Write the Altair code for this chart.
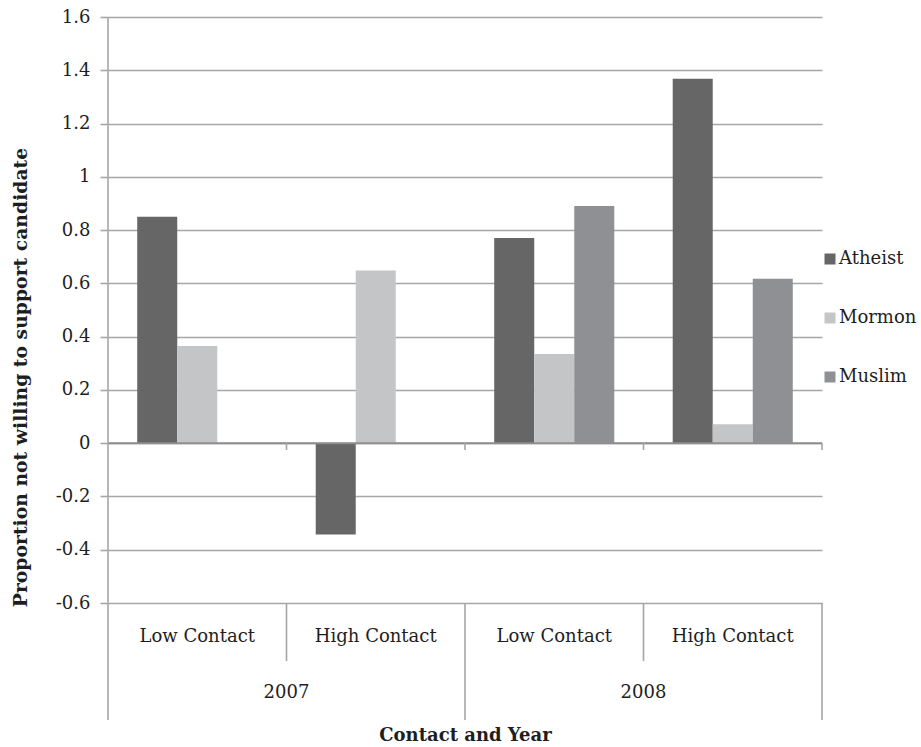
import altair as alt
import pandas as pd

# Category groups (year / contact level) and the three candidate religions
years = ["2007", "2007", "2008", "2008"]
contacts = ["Low Contact", "High Contact", "Low Contact", "High Contact"]
series = ["Atheist", "Mormon", "Muslim"]
colors = ["#666667", "#c4c5c7", "#8f9094"]

atheist = [0.85, -0.343, 0.77, 1.368]
mormon = [0.365, 0.648, 0.335, 0.071]
muslim = [None, None, 0.89, 0.617]

y_ticks = [-0.6, -0.4, -0.2, 0, 0.2, 0.4, 0.6, 0.8, 1, 1.2, 1.4, 1.6]
y_labels = ["-0.6", "-0.4", "-0.2", "0", "0.2", "0.4", "0.6", "0.8", "1", "1.2", "1.4", "1.6"]

FONT = "DejaVu Serif"
TEXT = "#1e1e1e"
LINE = "#a6a6a6"

W, H = 714, 586

groups = [f"{y} {c}" for y, c in zip(years, contacts)]
rows = []
for name, vals in zip(series, [atheist, mormon, muslim]):
    for g, v in zip(groups, vals):
        if v is not None:
            rows.append({"group": g, "religion": name, "value": v})
bars_df = pd.DataFrame(rows)

# tick labels with a plain hyphen for negatives
label_expr = "{" + ", ".join(f"'{v}': '{l}'" for v, l in zip(y_ticks, y_labels)) + "}[toString(datum.value)]"

y_scale = alt.Scale(domain=[-0.6, 1.6], nice=False, zero=False)

bars = alt.Chart(bars_df).mark_bar().encode(
    x=alt.X("group:N", sort=groups,
            scale=alt.Scale(domain=groups, paddingInner=0, paddingOuter=0),
            axis=None),
    xOffset=alt.XOffset("religion:N",
                        scale=alt.Scale(domain=series, paddingInner=0, paddingOuter=0.73)),
    y=alt.Y("value:Q", scale=y_scale,
            axis=alt.Axis(values=y_ticks, labelExpr=label_expr,
                          grid=True, gridColor=LINE, gridWidth=1.6,
                          domain=False, ticks=True, tickSize=8, tickColor=LINE, tickWidth=1.6,
                          labelPadding=10, labelFont=FONT, labelFontSize=18, labelColor=TEXT,
                          title="Proportion not willing to support candidate",
                          titleFont=FONT, titleFontSize=18.8, titleFontWeight="bold",
                          titleColor=TEXT, titleX=-88, titleY=360, titleBaseline="middle")),
    color=alt.Color("religion:N",
                    scale=alt.Scale(domain=series, range=colors),
                    legend=alt.Legend(title=None, orient="none", legendX=713, legendY=233,
                                      symbolType="square", symbolSize=121, symbolStrokeWidth=0,
                                      labelFont=FONT, labelFontSize=18, labelColor=TEXT,
                                      labelOffset=0, rowPadding=41, padding=0)),
)

# Zero baseline across the plot
zero = alt.Chart(pd.DataFrame({"v": [0]})).mark_rule(color="#8e8e8e", strokeWidth=2).encode(
    y=alt.Y("v:Q", scale=y_scale),
    x=alt.value(0), x2=alt.value(W),
)

# Two-level category axis: separators, contact labels, year labels
pos_scale = alt.Scale(domain=[0, 4], nice=False, zero=False)
sep_df = pd.DataFrame({"pos": [0, 1, 2, 3, 4],
                       "kind": ["axis", "contact", "year", "contact", "year"]})

axis_line = alt.Chart(sep_df[sep_df.kind == "axis"]).mark_rule(color=LINE, strokeWidth=1.6).encode(
    x=alt.X("pos:Q", scale=pos_scale,
            axis=alt.Axis(labels=False, ticks=False, domain=False, grid=False,
                          title="Contact and Year", titleFont=FONT, titleFontSize=18,
                          titleFontWeight="bold", titleColor=TEXT,
                          titleY=132, titleBaseline="middle")),
    y=alt.value(0), y2=alt.value(703),
)
year_seps = alt.Chart(sep_df[sep_df.kind == "year"]).mark_rule(color=LINE, strokeWidth=1.6).encode(
    x=alt.X("pos:Q", scale=pos_scale, axis=None),
    y=alt.value(H), y2=alt.value(703),
)
contact_seps = alt.Chart(sep_df[sep_df.kind == "contact"]).mark_rule(color=LINE, strokeWidth=1.6).encode(
    x=alt.X("pos:Q", scale=pos_scale, axis=None),
    y=alt.value(H), y2=alt.value(644),
)
zero_ticks = alt.Chart(sep_df[sep_df.pos > 0]).mark_rule(color=LINE, strokeWidth=1.6).encode(
    x=alt.X("pos:Q", scale=pos_scale, axis=None),
    y=alt.value(426), y2=alt.value(433),
)

contact_df = pd.DataFrame({"pos": [0.5, 1.5, 2.5, 3.5], "label": contacts})
contact_text = alt.Chart(contact_df).mark_text(font=FONT, fontSize=18, color=TEXT, baseline="middle").encode(
    x=alt.X("pos:Q", scale=pos_scale, axis=None),
    y=alt.value(620),
    text="label:N",
)
year_df = pd.DataFrame({"pos": [1, 3], "label": ["2007", "2008"]})
year_text = alt.Chart(year_df).mark_text(font=FONT, fontSize=18, color=TEXT, baseline="middle").encode(
    x=alt.X("pos:Q", scale=pos_scale, axis=None),
    y=alt.value(676),
    text="label:N",
)

chart = alt.layer(
    bars, zero, axis_line, year_seps, contact_seps, zero_ticks, contact_text, year_text
).resolve_scale(x="independent").properties(
    width=W, height=H,
    autosize=alt.AutoSizeParams(type="none"),
    padding={"left": 108, "top": 17, "right": 99, "bottom": 144},
    background="white",
).configure_view(stroke=None)

chart.save("out.html", embed_options={"renderer": "svg", "actions": False})
